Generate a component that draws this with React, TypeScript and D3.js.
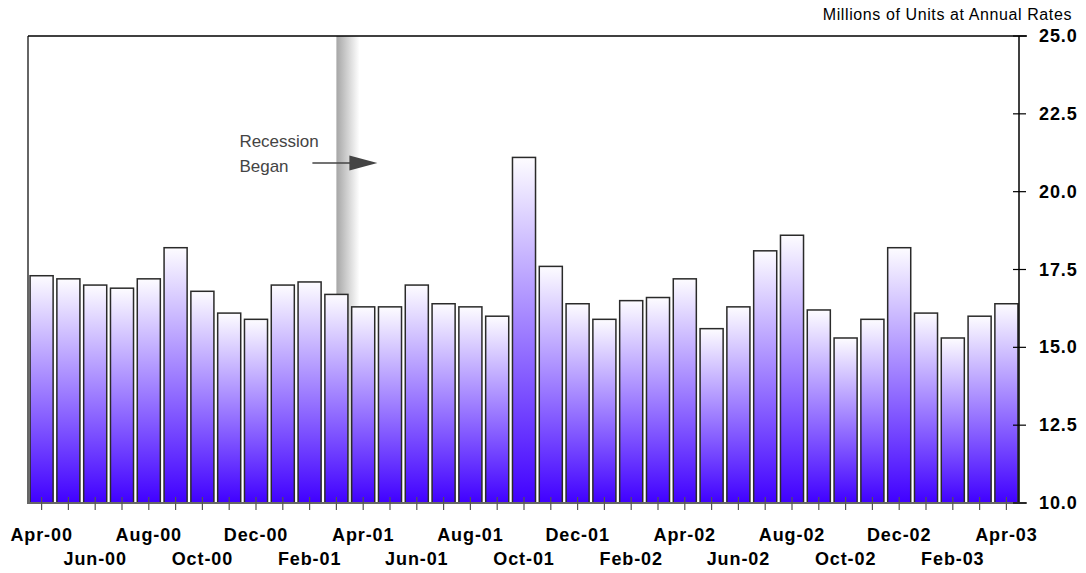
import React from "react";
import * as d3 from "d3";

const months = [
  "Apr-00","May-00","Jun-00","Jul-00","Aug-00","Sep-00","Oct-00","Nov-00","Dec-00",
  "Jan-01","Feb-01","Mar-01","Apr-01","May-01","Jun-01","Jul-01","Aug-01","Sep-01","Oct-01","Nov-01","Dec-01",
  "Jan-02","Feb-02","Mar-02","Apr-02","May-02","Jun-02","Jul-02","Aug-02","Sep-02","Oct-02","Nov-02","Dec-02",
  "Jan-03","Feb-03","Mar-03","Apr-03",
];
const sales = [
  17.3, 17.2, 17.0, 16.9, 17.2, 18.2, 16.8, 16.1, 15.9,
  17.0, 17.1, 16.7, 16.3, 16.3, 17.0, 16.4, 16.3, 16.0, 21.1, 17.6, 16.4,
  15.9, 16.5, 16.6, 17.2, 15.6, 16.3, 18.1, 18.6, 16.2, 15.3, 15.9, 18.2,
  16.1, 15.3, 16.0, 16.4,
];
const yTicks = [10.0, 12.5, 15.0, 17.5, 20.0, 22.5, 25.0];
const recessionStart = "Mar-01";
const unitsLabel = "Millions of Units at Annual Rates";
const annotationLines = ["Recession", "Began"];

const W = 1086, H = 573;
const left = 29, right = 1019, top = 36, bottom = 503;

export default function App() {
  const x = d3.scaleBand<string>().domain(months).range([left, right]).paddingInner(0.14).paddingOuter(0.04);
  const y = d3.scaleLinear().domain([10, 25]).range([bottom, top]);
  const bw = x.bandwidth();
  const recX = (x(recessionStart) as number) + bw / 2;
  const arrowY = 163;

  return (
    <svg width={W} height={H} style={{ position: "absolute", left: 0, top: 0, fontFamily: "Liberation Sans, Arial, sans-serif" }}>
      <defs>
        <linearGradient id="barGrad" x1="0" y1="0" x2="0" y2="1">
          <stop offset="0" stopColor="#fdfcff" />
          <stop offset="1" stopColor="#4000ff" />
        </linearGradient>
        <linearGradient id="recGrad" x1="0" y1="0" x2="1" y2="0">
          <stop offset="0" stopColor="#a6a6a6" />
          <stop offset="1" stopColor="#ffffff" />
        </linearGradient>
      </defs>
      <rect x={0} y={0} width={W} height={H} fill="#fff" />
      {/* recession band */}
      <rect x={recX} y={top} width={bw} height={bottom - top} fill="url(#recGrad)" />
      {/* bars */}
      {months.map((m, i) => (
        <rect key={m} x={x(m)} y={y(sales[i])} width={bw} height={bottom - y(sales[i])}
          fill="url(#barGrad)" stroke="#2a2a2a" strokeWidth={1.5} />
      ))}
      {/* frame */}
      <line x1={left - 1} x2={left - 1} y1={top} y2={bottom} stroke="#666" strokeWidth={2} />
      <line x1={left - 1} x2={right + 8} y1={top} y2={top} stroke="#000" strokeWidth={1.5} />
      <line x1={right} x2={right} y1={top} y2={bottom} stroke="#000" strokeWidth={1.5} />
      <line x1={left - 2} x2={right + 8} y1={bottom} y2={bottom} stroke="#666" strokeWidth={2} />
      {/* y ticks */}
      {yTicks.map((t) => (
        <g key={t}>
          <line x1={right - 6} x2={right + 7} y1={y(t)} y2={y(t)} stroke="#000" strokeWidth={1.2} />
          <text x={right + 20} y={y(t) + 6} fontSize={18} fontWeight="bold" letterSpacing={0.9} fill="#000">{d3.format(".1f")(t)}</text>
        </g>
      ))}
      {/* x ticks */}
      {months.map((m, i) => {
        const cx = (x(m) as number) + bw / 2;
        return (
          <g key={m}>
            <line x1={cx} x2={cx} y1={bottom - 6} y2={bottom + 7} stroke="#555" strokeWidth={1.2} />
            {i % 2 === 0 && (
              <text x={cx} y={i % 4 === 0 ? 541 : 565} textAnchor="middle" fontSize={18} fontWeight="bold" letterSpacing={0.9} fill="#000">{m}</text>
            )}
          </g>
        );
      })}
      {/* units label */}
      <text x={1072} y={20} textAnchor="end" fontSize={16} letterSpacing={0.6} fill="#000">{unitsLabel}</text>
      {/* annotation */}
      <text x={recX - 97} y={147} fontSize={17} fill="#444">{annotationLines[0]}</text>
      <text x={recX - 97} y={172} fontSize={17} fill="#444">{annotationLines[1]}</text>
      <line x1={recX - 24} x2={recX + 14} y1={arrowY} y2={arrowY} stroke="#444" strokeWidth={1.5} />
      <path d={`M${recX + 13},${arrowY - 7.5} L${recX + 41},${arrowY} L${recX + 13},${arrowY + 7.5} Z`} fill="#444" />
    </svg>
  );
}
